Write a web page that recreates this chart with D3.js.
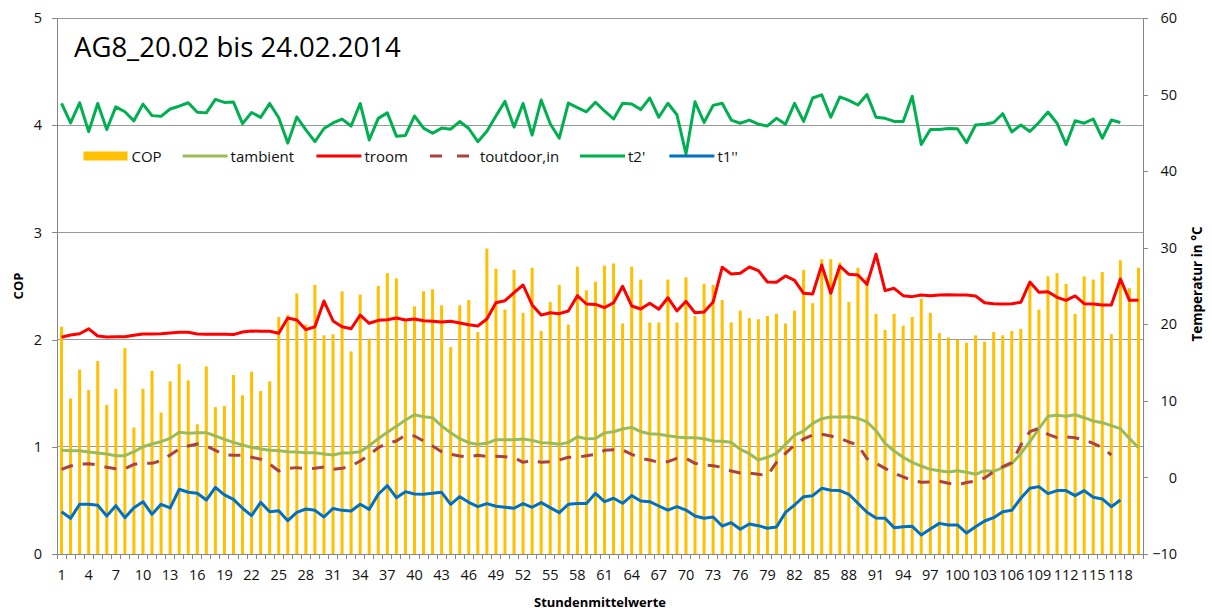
<!DOCTYPE html>
<html><head><meta charset="utf-8">
<script src="https://cdn.jsdelivr.net/npm/d3@7"></script>
<style>
body{margin:0;background:#fff;}
svg{display:block;font-family:"Open Sans",sans-serif;}
</style></head>
<body><svg id="c" width="1212" height="610"></svg>
<script>
const categories = d3.range(1, 121);
const tickLabels = [1,4,7,10,13,16,19,22,25,28,31,34,37,40,43,46,49,52,55,58,61,64,67,70,73,76,79,82,85,88,91,94,97,100,103,106,109,112,115,118];
const leftTicks = [0,1,2,3,4,5];
const rightTicks = [-10,0,10,20,30,40,50,60];

const cop = [2.12,1.45,1.72,1.53,1.80,1.39,1.54,1.92,1.18,1.54,
1.71,1.32,1.61,1.77,1.62,1.21,1.75,1.37,1.38,1.67,
1.48,1.70,1.52,1.61,2.21,2.23,2.43,2.14,2.51,2.04,
2.05,2.45,1.89,2.42,2.01,2.50,2.62,2.57,2.17,2.31,
2.45,2.47,2.32,1.93,2.32,2.37,2.07,2.85,2.66,2.28,
2.65,2.25,2.67,2.08,2.35,2.51,2.14,2.68,2.46,2.54,
2.69,2.71,2.15,2.68,2.56,2.16,2.16,2.56,2.16,2.58,
2.22,2.52,2.51,2.37,2.16,2.27,2.20,2.19,2.22,2.24,
2.15,2.27,2.65,2.34,2.75,2.75,2.72,2.35,2.67,2.58,
2.24,2.09,2.24,2.13,2.21,2.38,2.25,2.06,2.02,2.00,
1.97,2.04,1.98,2.07,2.04,2.08,2.10,2.52,2.28,2.59,
2.62,2.52,2.24,2.59,2.56,2.63,2.05,2.74,2.48,2.67];

const tambient = [3.54,3.5,3.49,3.32,3.19,3.06,2.84,2.84,3.36,4.01,
4.37,4.67,5.1,5.89,5.76,5.84,5.84,5.41,4.97,4.58,
4.23,3.93,3.71,3.54,3.5,3.36,3.32,3.23,3.23,3.07,
2.93,3.19,3.23,3.36,4.15,5.06,5.89,6.67,7.5,8.19,
7.93,7.8,6.72,5.84,5.06,4.54,4.32,4.45,4.93,4.93,
4.93,5.02,4.84,4.54,4.5,4.32,4.58,5.32,5.06,5.08,
5.82,5.97,6.32,6.54,5.97,5.71,5.63,5.45,5.28,5.19,
5.19,5.06,4.76,4.71,4.58,3.67,3.1,2.28,2.63,3.15,
4.32,5.54,6.06,7.07,7.67,7.89,7.89,7.93,7.72,7.25,
6.1,4.45,3.45,2.63,1.97,1.49,1.06,0.88,0.71,0.88,
0.67,0.41,0.88,0.8,1.27,1.79,3.1,4.67,6.37,7.98,
8.11,7.98,8.19,7.8,7.37,7.15,6.76,6.37,5.1,3.88];

const troom = [18.3,18.6,18.77,19.4,18.47,18.34,18.38,18.38,18.56,18.73,
18.73,18.77,18.86,18.95,18.95,18.73,18.69,18.69,18.69,18.65,
18.99,19.12,19.08,19.08,18.82,20.82,20.56,19.3,19.68,23.04,
20.43,19.68,19.42,21.2,20.13,20.52,20.6,20.82,20.56,20.69,
20.47,20.39,20.3,20.39,20.17,19.95,19.78,20.69,22.82,23.08,
24.13,25.13,22.52,21.2,21.51,21.39,21.74,23.74,22.65,22.6,
22.17,22.82,24.96,22.39,22.0,22.74,21.96,23.47,21.74,23.0,
21.51,21.6,22.9,27.44,26.57,26.66,27.48,27.0,25.52,25.48,
26.31,25.74,24.05,23.96,27.74,24.05,27.61,26.53,26.44,25.22,
29.14,24.39,24.7,23.74,23.61,23.82,23.74,23.82,23.87,23.82,
23.82,23.7,22.82,22.69,22.65,22.69,22.87,25.52,24.18,24.26,
23.52,23.13,23.7,22.69,22.65,22.52,22.52,25.92,23.13,23.13];

const toutdoor = [1.06,1.49,1.75,1.79,1.62,1.32,1.14,1.14,1.71,1.84,
1.84,2.19,2.93,3.71,4.1,4.37,4.1,3.54,2.97,2.9,
2.9,2.63,2.37,1.75,0.84,1.19,1.28,1.14,1.19,1.36,
1.06,1.19,1.49,2.14,2.93,3.88,4.45,4.76,5.54,5.41,
4.76,4.1,3.36,3.02,2.8,2.67,2.89,2.76,2.76,2.71,
2.58,1.97,2.24,1.97,2.06,2.28,2.63,2.63,2.84,3.02,
3.54,3.62,3.58,3.02,2.5,2.28,1.97,2.06,2.5,2.5,
1.84,1.62,1.53,1.32,0.84,0.58,0.58,0.41,0.24,1.97,
3.15,4.23,5.02,5.54,5.63,5.41,5.1,4.63,4.23,2.45,
1.84,1.19,0.54,0.06,-0.37,-0.63,-0.6,-0.5,-0.77,-0.99,
-0.67,-0.46,-0.07,0.75,1.41,1.93,4.23,5.97,6.41,5.63,
5.19,5.28,5.19,4.89,4.45,3.88,2.93,null,null,null];

const t2 = [48.84,46.3,48.93,45.16,48.84,45.44,48.39,47.75,46.57,48.75,
47.25,47.16,48.11,48.48,48.93,47.7,47.61,49.38,48.98,49.02,
46.2,47.66,47.02,48.84,46.98,43.66,47.07,45.39,43.85,45.57,
46.3,46.8,45.89,48.84,44.07,46.89,47.61,44.57,44.66,47.2,
45.62,44.94,45.62,45.48,46.48,45.57,43.85,45.21,47.2,49.11,
45.75,48.84,44.71,49.29,46.2,44.3,48.89,48.3,47.75,49.0,
47.86,46.81,48.86,48.77,48.04,49.55,47.04,48.86,47.36,42.25,
49.05,46.35,48.59,48.86,46.67,46.26,46.67,46.13,45.9,46.9,
46.13,48.86,46.49,49.55,49.96,47.04,49.69,49.23,48.64,50.0,
47.04,46.9,46.49,46.49,49.78,43.48,45.44,45.44,45.58,45.53,
43.71,46.03,46.13,46.35,47.5,45.12,46.03,45.17,46.35,47.72,
46.26,43.48,46.58,46.26,46.81,44.3,46.67,46.35,null,null];

const t1 = [-4.48,-5.34,-3.51,-3.51,-3.64,-5.04,-3.69,-5.26,-3.95,-3.17,
-4.82,-3.51,-3.99,-1.55,-1.94,-2.07,-2.95,-1.29,-2.29,-2.86,
-4.03,-4.99,-3.25,-4.48,-4.35,-5.65,-4.56,-4.12,-4.3,-5.17,
-4.05,-4.3,-4.39,-3.51,-4.17,-2.2,-1.08,-2.64,-1.86,-2.16,
-2.2,-2.07,-1.94,-3.51,-2.51,-3.25,-3.82,-3.42,-3.77,-3.9,
-4.03,-3.42,-3.9,-3.29,-3.95,-4.6,-3.51,-3.42,-3.42,-2.07,
-3.17,-2.72,-3.38,-2.38,-3.08,-3.17,-3.73,-4.26,-3.82,-4.26,
-5.04,-5.34,-5.17,-6.34,-5.91,-6.77,-6.08,-6.3,-6.64,-6.47,
-4.56,-3.6,-2.51,-2.38,-1.42,-1.68,-1.72,-2.2,-3.38,-4.55,
-5.3,-5.34,-6.56,-6.43,-6.39,-7.52,-6.73,-6.0,-6.21,-6.21,
-7.26,-6.43,-5.69,-5.26,-4.48,-4.3,-2.72,-1.42,-1.2,-2.11,
-1.72,-1.72,-2.38,-1.72,-2.59,-2.81,-3.82,-2.95,null,null];

const series = [
  {name:"tambient", values:tambient, color:"#9BBB59", dash:null},
  {name:"troom", values:troom, color:"#FF0000", dash:null},
  {name:"toutdoor,in", values:toutdoor, color:"#A9433F", dash:"12,10"},
  {name:"t2'", values:t2, color:"#00B050", dash:null},
  {name:"t1''", values:t1, color:"#0070C0", dash:null}
];

const svg = d3.select("#c");
const L = 57, R = 1143, T = 18, B = 554;
const x = d3.scaleBand().domain(categories).range([L, R]).padding(0);
const yL = d3.scaleLinear().domain([0,5]).range([B,T]);
const yR = d3.scaleLinear().domain([-10,60]).range([B,T]);
const cx = c => x(c) + x.bandwidth()/2;

// gridlines
svg.append("g").selectAll("line").data(leftTicks.filter(d=>d>0)).join("line")
  .attr("x1", L).attr("x2", R).attr("y1", d=>yL(d)).attr("y2", d=>yL(d))
  .attr("stroke", "#9a9a9a").attr("stroke-width", 1).attr("shape-rendering","crispEdges");

// bars
const bw = 3;
svg.append("g").selectAll("rect").data(categories).join("rect")
  .attr("x", c => cx(c) - bw/2).attr("width", bw)
  .attr("y", (c,i) => yL(cop[i])).attr("height", (c,i) => B - yL(cop[i]))
  .attr("fill", "#FFC000");

// lines
series.forEach(s => {
  const line = d3.line().defined((d,i)=>d!==null).x((d,i)=>cx(categories[i])).y(d=>yR(d));
  svg.append("path").datum(s.values).attr("d", line)
    .attr("fill","none").attr("stroke", s.color).attr("stroke-width", 3)
    .attr("stroke-linejoin","round")
    .attr("stroke-dasharray", s.dash);
});

// axes
const axisColor = "#868686";
const gL = svg.append("g").attr("transform", `translate(${L},0)`)
  .call(d3.axisLeft(yL).tickValues(leftTicks).tickSize(5).tickPadding(10).tickFormat(d3.format("d")));
const gR = svg.append("g").attr("transform", `translate(${R},0)`)
  .call(d3.axisRight(yR).tickValues(rightTicks).tickSize(5).tickPadding(10).tickFormat(d3.format("d")));
gR.selectAll("text").attr("text-anchor","end").attr("x", 34);
const gB = svg.append("g").attr("transform", `translate(0,${B})`)
  .call(d3.axisBottom(x).tickValues(tickLabels).tickSize(0).tickPadding(16));
[gL,gR,gB].forEach(g=>{
  g.select(".domain").attr("stroke", axisColor).attr("shape-rendering","crispEdges");
  g.selectAll(".tick line").attr("stroke", axisColor).attr("shape-rendering","crispEdges");
  g.selectAll("text").attr("font-family","'Open Sans',sans-serif").attr("font-size",14.5).attr("fill","#111");
});
// category boundary ticks
svg.append("g").selectAll("line").data(categories.concat([null])).join("line")
  .attr("x1", c => c===null ? R : x(c)).attr("x2", c => c===null ? R : x(c))
  .attr("y1", B).attr("y2", B+5).attr("stroke", axisColor).attr("shape-rendering","crispEdges");

// axis titles
svg.append("text").attr("x", 600).attr("y", 607).attr("text-anchor","middle")
  .attr("font-size",13).attr("font-weight","bold").text("Stundenmittelwerte");
svg.append("text").attr("transform","translate(23,286) rotate(-90)").attr("text-anchor","middle")
  .attr("font-size",13).attr("font-weight","bold").text("COP");
svg.append("text").attr("transform","translate(1202,284) rotate(-90)").attr("text-anchor","middle")
  .attr("font-size",13.5).attr("font-weight","bold").text("Temperatur in °C");

// chart title
svg.append("text").attr("x", 74).attr("y", 57).attr("font-size", 27.5).attr("fill","#000")
  .text("AG8_20.02 bis 24.02.2014");

// legend
const legendItems = [
  {name:"COP", color:"#FFC000", type:"bar", x:83.5},
  {name:"tambient", color:"#9BBB59", type:"line", x:182.6},
  {name:"troom", color:"#FF0000", type:"line", x:316.4},
  {name:"toutdoor,in", color:"#A9433F", type:"dash", x:430},
  {name:"t2'", color:"#00B050", type:"line", x:580},
  {name:"t1''", color:"#0070C0", type:"line", x:669.4}
];
const lg = svg.append("g");
legendItems.forEach(it => {
  const g = lg.append("g").attr("transform", `translate(${it.x},156)`);
  if (it.type === "bar") {
    g.append("rect").attr("x",0).attr("y",-4.5).attr("width",44).attr("height",9).attr("fill",it.color);
  } else {
    g.append("line").attr("x1",0).attr("x2",45).attr("y1",0).attr("y2",0)
      .attr("stroke",it.color).attr("stroke-width",3)
      .attr("stroke-dasharray", it.type==="dash" ? "12,15" : null);
  }
  g.append("text").attr("x", it.type==="dash" ? 50 : 48).attr("y", 5.5).attr("font-size",15).attr("fill","#111").text(it.name);
});
</script></body></html>
